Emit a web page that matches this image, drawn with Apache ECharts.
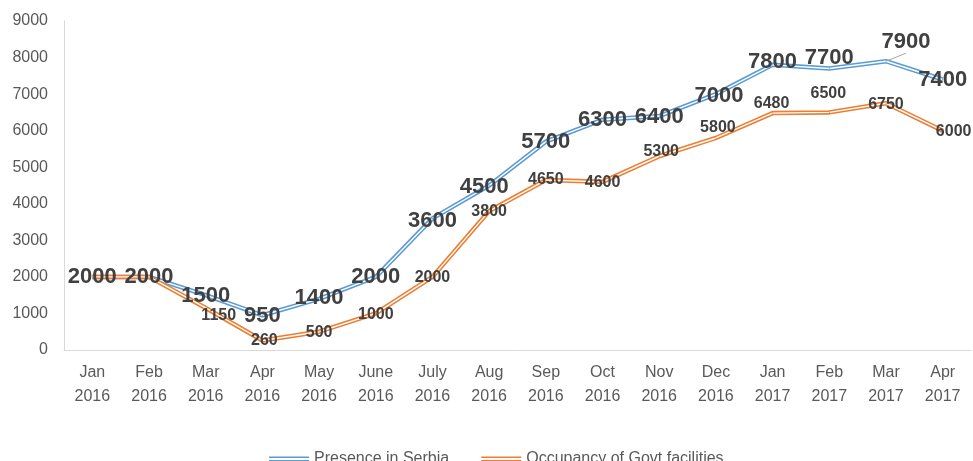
<!DOCTYPE html>
<html>
<head>
<meta charset="utf-8">
<script src="https://cdn.jsdelivr.net/npm/echarts@6/dist/echarts.min.js"></script>
<style>
  html, body { margin: 0; padding: 0; background: #fff; }
  #chart { width: 973px; height: 461px; }
</style>
</head>
<body>
<div id="chart"></div>
<script>
// data
const months = ['Jan\n2016', 'Feb\n2016', 'Mar\n2016', 'Apr\n2016', 'May\n2016', 'June\n2016', 'July\n2016', 'Aug\n2016',
  'Sep\n2016', 'Oct\n2016', 'Nov\n2016', 'Dec\n2016', 'Jan\n2017', 'Feb\n2017', 'Mar\n2017', 'Apr\n2017']
const presence = [2000, 2000, 1500, 950, 1400, 2000, 3600, 4500, 5700, 6300, 6400, 7000, 7800, 7700, 7900, 7400]
const occupancy = [2000, 2000, 1150, 260, 500, 1000, 2000, 3800, 4650, 4600, 5300, 5800, 6480, 6500, 6750, 6000]
const yTicks = [0, 1000, 2000, 3000, 4000, 5000, 6000, 7000, 8000, 9000]

// label nudges (px), like the hand-moved labels in the original
const presenceShift = [[0, 0], [0, 0], [0, 1], [0, 1], [0, -1], [0, 0], [0, 3], [-5, 1], [0, 0], [0, 0], [0, 1], [3, 2], [0, -3], [0, -11], [20, -19], [0, 0]]
const occupancyShift = [null, null, [13, 8], [2, 0], [0, 1], [0, 1], [0, 1], [0, 1], [0, 0], [0, 1], [2, -5], [2, -10], [-1, -10], [-1, -19], [0, 1], [11, 1]]

const blue = '#5B9BD5'
const orange = '#ED7D31'
const font = '"Liberation Sans", Arial, sans-serif'

const myChart = echarts.init(document.getElementById('chart'))

const labelled = (vals, shifts) => vals.map((v, i) => {
  const s = shifts[i]
  if (!s) return { value: v, label: { show: false } }
  const item = { value: v, label: { offset: s } }
  if (i === 14 && shifts === presenceShift) {
    item.labelLine = { show: true, lineStyle: { color: '#a6a6a6', width: 1 } }
  }
  return item
})

const outer = (name, vals, shifts, color, size) => ({
  name: name,
  type: 'line',
  data: labelled(vals, shifts),
  symbol: 'circle',
  symbolSize: 1,
  itemStyle: { color: color },
  lineStyle: { color: color, width: 4.5 },
  label: {
    show: true,
    position: 'inside',
    color: '#404040',
    fontFamily: font,
    fontWeight: 'bold',
    fontSize: size,
    textBorderWidth: 0
  },
  z: 2
})
const inner = (name, vals) => ({
  name: name,
  type: 'line',
  data: vals,
  symbol: 'none',
  lineStyle: { color: '#ffffff', width: 1.4 },
  silent: true,
  z: 2
})

// double stroke legend mark
const dbl = 'path://M0,0H40V1.6H0Z M0,3.4H40V5H0Z'

let option = {
  animation: false,
  grid: {
    top: 21,
    left: 64,
    right: 2,
    bottom: 111
  },
  legend: {
    top: 446,
    left: 264,
    itemGap: 32,
    itemWidth: 40,
    itemHeight: 5,
    textStyle: { color: '#595959', fontSize: 16, fontFamily: font },
    data: [
      { name: 'Presence in Serbia', icon: dbl, itemStyle: { color: blue } },
      { name: 'Occupancy of Govt facilities', icon: dbl, itemStyle: { color: orange } }
    ]
  },
  xAxis: {
    type: 'category',
    data: months,
    boundaryGap: true,
    axisTick: { show: false },
    axisLine: { lineStyle: { color: '#d9d9d9', width: 1 } },
    axisLabel: {
      color: '#595959',
      fontSize: 16,
      fontFamily: font,
      lineHeight: 24,
      margin: 11,
      interval: 0
    }
  },
  yAxis: {
    type: 'value',
    min: yTicks[0],
    max: yTicks[yTicks.length - 1],
    interval: 1000,
    axisLine: { show: true, lineStyle: { color: '#d9d9d9', width: 1 } },
    axisTick: { show: false },
    splitLine: { show: false },
    axisLabel: {
      color: '#595959',
      fontSize: 16,
      fontFamily: font,
      margin: 16,
      formatter: (v) => String(v)
    }
  },
  series: [
    outer('Presence in Serbia', presence, presenceShift, blue, 22),
    inner('Presence in Serbia', presence),
    outer('Occupancy of Govt facilities', occupancy, occupancyShift, orange, 16),
    inner('Occupancy of Govt facilities', occupancy)
  ]
}
myChart.setOption(option)
window.addEventListener('resize', () => {
  myChart.resize()
})
</script>
</body>
</html>
